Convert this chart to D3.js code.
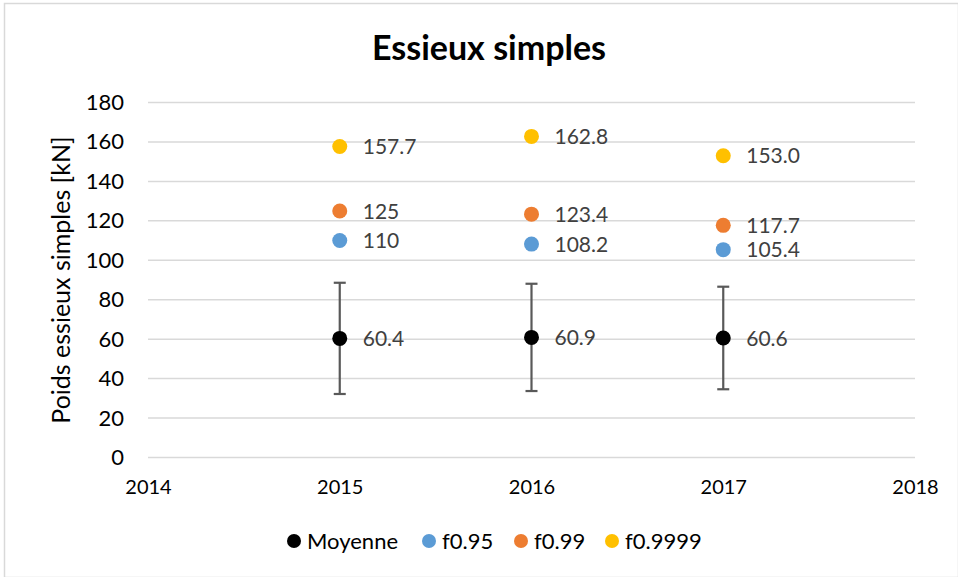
<!DOCTYPE html>
<html>
<head>
<meta charset="utf-8">
<script src="https://cdn.jsdelivr.net/npm/d3@7"></script>
<style>
  html, body { margin: 0; padding: 0; background: #fff; }
  svg { display: block; }
</style>
</head>
<body>
<script>
// Axle loads per year: mean with ±1 std error bar, plus fractiles
const years = [2015, 2016, 2017];
const moyenne = [60.4, 60.9, 60.6];
const ecartType = [28.2, 27.2, 26.0];
const f095 = [110, 108.2, 105.4];
const f099 = [125, 123.4, 117.7];
const f09999 = [157.7, 162.8, 153.0];
const labels095 = ["110", "108.2", "105.4"];
const labels099 = ["125", "123.4", "117.7"];
const labels09999 = ["157.7", "162.8", "153.0"];
const labelsMoy = ["60.4", "60.9", "60.6"];
const xTicks = [2014, 2015, 2016, 2017, 2018];
const yTicks = [0, 20, 40, 60, 80, 100, 120, 140, 160, 180];

const seriesNames = ["Moyenne", "f0.95", "f0.99", "f0.9999"];
const seriesColors = ["#000000", "#5B9BD5", "#ED7D31", "#FFC000"];

const W = 958, H = 577;
const FONT = "Lato, 'Open Sans', sans-serif";

const svg = d3.select("body").append("svg")
  .attr("width", W).attr("height", H);

// chart frame
svg.append("rect")
  .attr("x", 4.5).attr("y", 3.5)
  .attr("width", W - 4).attr("height", H - 3)
  .attr("fill", "#fff").attr("stroke", "#d9d9d9").attr("stroke-width", 1.5);

const x = d3.scaleLinear().domain([2014, 2018]).range([148, 915]);
const y = d3.scaleLinear().domain([0, 180]).range([457.5, 102.5]);

// title
svg.append("text")
  .attr("x", 489).attr("y", 60)
  .attr("text-anchor", "middle")
  .attr("font-family", FONT).attr("font-weight", "bold")
  .attr("font-size", 34).attr("fill", "#000")
  .text("Essieux simples");

// horizontal gridlines
svg.append("g")
  .selectAll("line").data(yTicks).join("line")
  .attr("x1", x(2014)).attr("x2", x(2018))
  .attr("y1", d => y(d)).attr("y2", d => y(d))
  .attr("stroke", "#d9d9d9").attr("stroke-width", 1.5);

// y axis labels
const yAxis = svg.append("g")
  .attr("transform", `translate(${x(2014)},0)`)
  .call(d3.axisLeft(y).tickValues(yTicks).tickSize(0).tickPadding(24));
yAxis.select(".domain").remove();
yAxis.selectAll("text")
  .attr("font-family", FONT).attr("font-size", 22).attr("fill", "#000");

// x axis labels
const xAxis = svg.append("g")
  .attr("transform", `translate(0,${y(0)})`)
  .call(d3.axisBottom(x).tickValues(xTicks).tickFormat(d3.format("d")).tickSize(0).tickPadding(22));
xAxis.select(".domain").remove();
xAxis.selectAll("text")
  .attr("font-family", FONT).attr("font-size", 20).attr("fill", "#000");

// y axis title
svg.append("text")
  .attr("transform", `translate(70,${(y(0) + y(180)) / 2}) rotate(-90)`)
  .attr("text-anchor", "middle")
  .attr("font-family", FONT).attr("font-size", 25).attr("fill", "#000")
  .text("Poids essieux simples [kN]");

// error bars on the mean
const eb = svg.append("g").attr("stroke", "#595959").attr("stroke-width", 2.2);
years.forEach((yr, i) => {
  const lo = moyenne[i] - ecartType[i], hi = moyenne[i] + ecartType[i];
  eb.append("line").attr("x1", x(yr)).attr("x2", x(yr)).attr("y1", y(lo)).attr("y2", y(hi));
  eb.append("line").attr("x1", x(yr) - 6).attr("x2", x(yr) + 6).attr("y1", y(lo)).attr("y2", y(lo));
  eb.append("line").attr("x1", x(yr) - 6).attr("x2", x(yr) + 6).attr("y1", y(hi)).attr("y2", y(hi));
});

// point series with data labels
const series = [
  { values: moyenne, labels: labelsMoy },
  { values: f095, labels: labels095 },
  { values: f099, labels: labels099 },
  { values: f09999, labels: labels09999 }
];
series.forEach((s, si) => {
  const g = svg.append("g");
  g.selectAll("circle").data(years).join("circle")
    .attr("cx", d => x(d))
    .attr("cy", (d, i) => y(s.values[i]))
    .attr("r", 7.5)
    .attr("fill", seriesColors[si]);
  g.selectAll("text").data(years).join("text")
    .attr("x", d => x(d) + 23)
    .attr("y", (d, i) => y(s.values[i]))
    .attr("dy", "0.36em")
    .attr("font-family", FONT).attr("font-size", 21).attr("fill", "#404040")
    .text((d, i) => s.labels[i]);
});

// legend
const legendX = [294, 429, 521, 612];
const leg = svg.append("g");
seriesNames.forEach((n, i) => {
  leg.append("circle").attr("cx", legendX[i]).attr("cy", 541).attr("r", 7)
    .attr("fill", seriesColors[i]);
  leg.append("text").attr("x", legendX[i] + 13).attr("y", 541).attr("dy", "0.36em")
    .attr("font-family", FONT).attr("font-size", 22).attr("fill", "#000")
    .text(n);
});
</script>
</body>
</html>
